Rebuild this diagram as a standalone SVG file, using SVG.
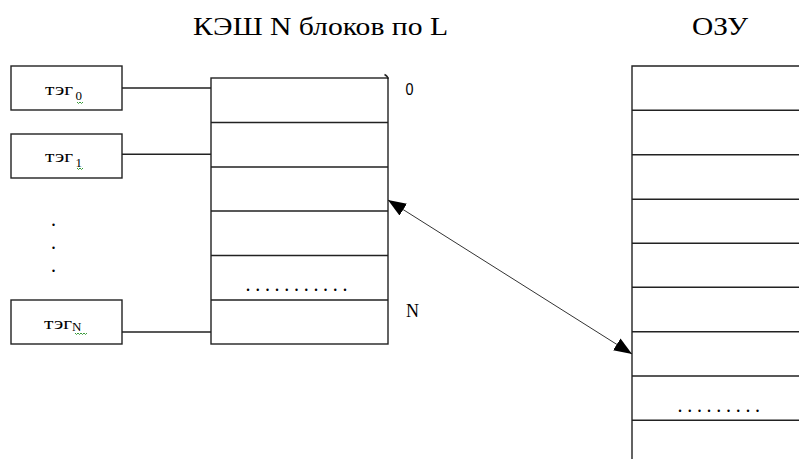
<svg xmlns="http://www.w3.org/2000/svg" width="799" height="459" viewBox="0 0 799 459">
<style>
.box{fill:#fff;stroke:#222;stroke-width:1.4}
.ln{stroke:#222;stroke-width:1.4;fill:none}
.title{font-family:"Liberation Serif","Times New Roman",serif;font-size:26px;fill:#000}
.tag{font-family:"Liberation Serif","Times New Roman",serif;font-size:17px;fill:#000}
.sub{font-family:"Liberation Serif","Times New Roman",serif;font-size:13px;fill:#000}
.lbl{font-family:"Liberation Serif","Times New Roman",serif;font-size:18px;fill:#000}
.dots{font-family:"Liberation Serif","Times New Roman",serif;font-size:20px;fill:#000}
.sq{fill:none;stroke:#3a9a3a;stroke-width:1}
</style>
<defs>
<marker id="ah" viewBox="0 0 18 14" refX="18" refY="7" markerWidth="18" markerHeight="14" markerUnits="userSpaceOnUse" orient="auto-start-reverse">
<path d="M0,0 L18,7 L0,14 z" fill="#000"/>
</marker>
</defs>
<rect width="799" height="459" fill="#fff"/>
<text class="title" x="193" y="35" textLength="255" lengthAdjust="spacingAndGlyphs">КЭШ N блоков по L</text>
<text class="title" x="692" y="35" textLength="56" lengthAdjust="spacingAndGlyphs">ОЗУ</text>

<g id="tag0">
<rect class="box" x="11" y="66" width="111" height="44"/>
<text class="tag" x="45" y="95" textLength="28" lengthAdjust="spacingAndGlyphs">тэг</text>
<text class="sub" x="75.5" y="100">0</text>
<path class="sq" d="M77,102 l1.5,1.5 l1.5,-1.5 l1.5,1.5 l1.5,-1.5"/>
</g>
<g id="tag1">
<rect class="box" x="11" y="134" width="111" height="44"/>
<text class="tag" x="45" y="162" textLength="28" lengthAdjust="spacingAndGlyphs">тэг</text>
<text class="sub" x="75.5" y="167">1</text>
<path class="sq" d="M77,168 l1.5,1.5 l1.5,-1.5 l1.5,1.5 l1.5,-1.5"/>
</g>
<g id="vdots">
<text class="dots" x="51" y="226">.</text>
<text class="dots" x="51" y="249">.</text>
<text class="dots" x="51" y="272">.</text>
</g>
<g id="tagN">
<rect class="box" x="11" y="300" width="111" height="44"/>
<text class="tag" x="44" y="329" textLength="28" lengthAdjust="spacingAndGlyphs">тэг</text>
<text class="sub" x="72" y="331" font-size="14">N</text>
<path class="sq" d="M75,333 l1.5,1.5 l1.5,-1.5 l1.5,1.5 l1.5,-1.5 l1.5,1.5 l1.5,-1.5 l1.5,1.5 l1.5,-1.5"/>
</g>

<g id="cache">
<rect class="box" x="211" y="78" width="177" height="266"/>
<path class="ln" d="M211,122.5H388M211,167H388M211,211H388M211,255.5H388M211,300H388"/>
<path class="ln" d="M384.5,74.5 Q388,76 388,79"/>
<text class="dots" x="245.5" y="291" letter-spacing="4.7">...........</text>
<text x="405.5" y="94.5" font-family="Liberation Sans, Arial, sans-serif" font-size="17" fill="#000" textLength="8" lengthAdjust="spacingAndGlyphs">0</text>
<text class="lbl" x="406" y="317">N</text>
</g>

<g id="ram">
<path class="ln" d="M632,459V66H799"/>
<path class="ln" d="M632,110.3H799M632,154.7H799M632,199.3H799M632,243.3H799M632,287.3H799M632,331.7H799M632,376H799M632,420.3H799"/>
<text class="dots" x="677.5" y="412" letter-spacing="4.7">.........</text>
</g>

<g id="connectors">
<path class="ln" d="M122,88H211M122,154.3H211M122,332H211"/>
<line x1="388" y1="200" x2="632" y2="354" stroke="#333" stroke-width="1" marker-start="url(#ah)" marker-end="url(#ah)"/>
</g>
</svg>
